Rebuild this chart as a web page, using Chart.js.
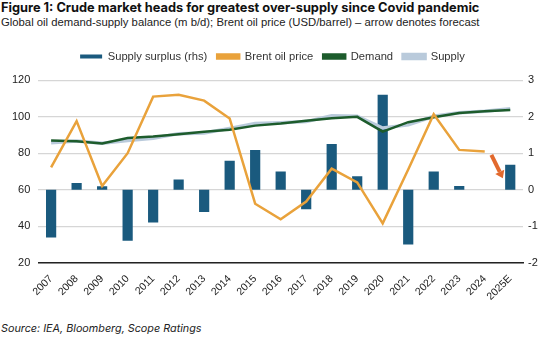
<!DOCTYPE html>
<html>
<head>
<meta charset="utf-8">
<script src="https://cdn.jsdelivr.net/npm/chart.js@4"></script>
<style>
  body { margin: 0; background: #fff; width: 541px; height: 338px; overflow: hidden; position: relative; }
  .title { position: absolute; left: 1px; top: 0px; font: bold 12.8px Inter, "Liberation Sans", sans-serif; color: #111; white-space: nowrap; }
  .subtitle { position: absolute; left: 1px; top: 16px; font: 11.3px "Liberation Sans", Arial, sans-serif; color: #222; white-space: nowrap; }
  .source { position: absolute; left: 1px; top: 322px; font: italic 10.8px Inter, "Liberation Sans", sans-serif; color: #222; }
  #wrap { position: absolute; left: 0; top: 41px; width: 541px; height: 264px; }
</style>
</head>
<body>
<div class="title">Figure 1: Crude market heads for greatest over-supply since Covid pandemic</div>
<div class="subtitle">Global oil demand-supply balance (m b/d); Brent oil price (USD/barrel) – arrow denotes forecast</div>
<div id="wrap"><canvas id="chart"></canvas></div>
<div class="source">Source: IEA, Bloomberg, Scope Ratings</div>
<script>
// Données
const years = ['2007', '2008', '2009', '2010', '2011', '2012', '2013', '2014', '2015', '2016',
               '2017', '2018', '2019', '2020', '2021', '2022', '2023', '2024', '2025E'];
const surplus = [-1.31, 0.18, 0.09, -1.40, -0.90, 0.28, -0.61, 0.79, 1.09, 0.50,
                 -0.54, 1.25, 0.37, 2.60, -1.50, 0.50, 0.10, null, 0.68];
const brent = [72.2, 97.6, 62, 80, 111, 112, 108.8, 99, 52.3, 43.8,
               53.5, 71.5, 64, 41.5, 71, 101.3, 81.8, 80.9, null];
const demand = [86.9, 86.5, 85.3, 88.3, 89.1, 90.4, 91.7, 92.8, 95.1, 96.2,
                97.8, 99.2, 99.9, 91.8, 97.0, 99.7, 102.0, 103.0, 103.7];
const supply = [85.7, 86.7, 85.4, 86.9, 88.2, 90.7, 91.1, 93.6, 96.2, 96.7,
                97.3, 100.5, 100.3, 93.8, 95.5, 100.2, 102.1, 103.0, 104.4];
const leftTicks = [20, 40, 60, 80, 100, 120];
const rightTicks = [-2, -1, 0, 1, 2, 3];
// flèche de prévision : [index catégorie, prix]
const arrowFrom = [17.26, 79.1];
const arrowTo = [17.71, 66.3];

const forecastArrow = {
    id: 'forecastArrow',
    afterDatasetsDraw(chart) {
        const x = chart.scales.x, y = chart.scales.y;
        const x1 = x.getPixelForValue(arrowFrom[0]), y1 = y.getPixelForValue(arrowFrom[1]);
        const x2 = x.getPixelForValue(arrowTo[0]), y2 = y.getPixelForValue(arrowTo[1]);
        const ang = Math.atan2(y2 - y1, x2 - x1);
        const head = 7;
        const ctx = chart.ctx;
        ctx.save();
        ctx.strokeStyle = '#e2692d';
        ctx.fillStyle = '#e2692d';
        ctx.lineWidth = 4;
        ctx.beginPath();
        ctx.moveTo(x1, y1);
        ctx.lineTo(x2 - Math.cos(ang) * head, y2 - Math.sin(ang) * head);
        ctx.stroke();
        ctx.beginPath();
        ctx.moveTo(x2, y2);
        ctx.lineTo(x2 - Math.cos(ang) * head - Math.sin(ang) * 5, y2 - Math.sin(ang) * head + Math.cos(ang) * 5);
        ctx.lineTo(x2 - Math.cos(ang) * head + Math.sin(ang) * 5, y2 - Math.sin(ang) * head - Math.cos(ang) * 5);
        ctx.closePath();
        ctx.fill();
        ctx.restore();
    }
};

// marge sous la légende
const legendGap = {
    id: 'legendGap',
    beforeInit(chart) {
        const fit = chart.legend.fit;
        chart.legend.fit = function () {
            fit.bind(chart.legend)();
            this.height += 8;
        };
    }
};

Chart.defaults.font.family = '"Liberation Sans", Arial, sans-serif';
Chart.defaults.color = '#222';

new Chart(document.getElementById('chart'), {
    type: 'bar',
    data: {
        labels: years,
        datasets: [
            { type: 'bar', label: 'Supply surplus (rhs)', data: surplus, yAxisID: 'y1',
              backgroundColor: '#1a5a7e', barPercentage: 0.5, categoryPercentage: 0.8, order: 4 },
            { type: 'line', label: 'Brent oil price', data: brent, yAxisID: 'y',
              borderColor: '#e9a23b', backgroundColor: '#e9a23b', borderWidth: 2.5, pointRadius: 0, tension: 0, order: 1 },
            { type: 'line', label: 'Demand', data: demand, yAxisID: 'y',
              borderColor: '#1d5c2c', backgroundColor: '#1d5c2c', borderWidth: 2.5, pointRadius: 0, tension: 0, order: 2 },
            { type: 'line', label: 'Supply', data: supply, yAxisID: 'y',
              borderColor: '#b9cadb', backgroundColor: '#b9cadb', borderWidth: 3.5, pointRadius: 0, tension: 0, order: 3 }
        ]
    },
    options: {
        responsive: true,
        maintainAspectRatio: false,
        animation: false,
        layout: { padding: { left: 4, right: 0, top: 0, bottom: 0 } },
        plugins: {
            legend: {
                position: 'top',
                labels: {
                    boxWidth: 22, boxHeight: 4, font: { size: 11.2 }, padding: 10, color: '#333',
                    sort: (a, b) => a.datasetIndex - b.datasetIndex
                }
            },
            tooltip: { enabled: false }
        },
        scales: {
            x: {
                grid: { display: false },
                border: { display: true, color: '#222', width: 1.5 },
                ticks: { maxRotation: 45, minRotation: 45, font: { size: 10.5 }, padding: 2 }
            },
            y: {
                position: 'left', min: 20, max: 120,
                afterBuildTicks: s => { s.ticks = leftTicks.map(v => ({ value: v })); },
                grid: { color: '#d6d6d6', lineWidth: 1.2, drawTicks: false },
                border: { display: false },
                ticks: { font: { size: 11 }, padding: 8 }
            },
            y1: {
                position: 'right', min: -2, max: 3,
                afterBuildTicks: s => { s.ticks = rightTicks.map(v => ({ value: v })); },
                afterFit: s => { s.width = 18; },
                grid: { display: false, drawTicks: false },
                border: { display: false },
                ticks: { font: { size: 11 }, padding: 5 }
            }
        }
    },
    plugins: [forecastArrow, legendGap]
});
</script>
</body>
</html>
